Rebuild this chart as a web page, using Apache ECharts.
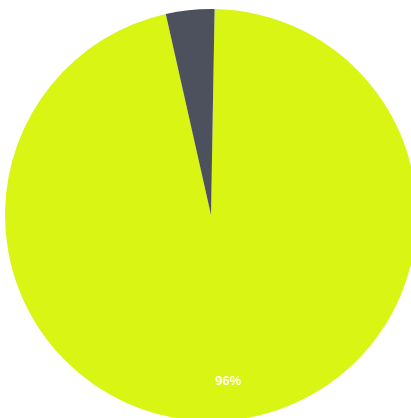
<!DOCTYPE html>
<html>
<head>
<meta charset="utf-8">
<script src="https://cdn.jsdelivr.net/npm/echarts@6/dist/echarts.min.js"></script>
<style>
  html, body { margin: 0; padding: 0; background: #ffffff; }
  #chart { width: 411px; height: 418px; }
</style>
</head>
<body>
<div id="chart"></div>
<script>
// slices, clockwise from the top
const names = ["Main", "Other"];
const values = [96.2, 3.8];
const colors = ["#d8f514", "#4d515e"];
const shownLabels = [true, false];

const chart = echarts.init(document.getElementById("chart"));

const pieData = names.map((n, i) => ({
  name: n,
  value: values[i],
  itemStyle: { color: colors[i] },
}));

// invisible ring on top, only used to place the label near the rim
const labelData = names.map((n, i) => ({
  name: n,
  value: values[i],
  itemStyle: { color: "transparent" },
  label: { show: shownLabels[i] },
}));

chart.setOption({
  animation: false,
  series: [
    {
      type: "pie",
      center: [211, 215],
      radius: 206,
      startAngle: 89,
      silent: true,
      label: { show: false },
      labelLine: { show: false },
      data: pieData,
    },
    {
      type: "pie",
      center: [211, 215],
      radius: [122, 206],
      startAngle: 89,
      percentPrecision: 0,
      silent: true,
      label: {
        position: "inside",
        formatter: "{d}%",
        color: "#ffffff",
        fontWeight: "bold",
        fontSize: 13,
        fontFamily: "Liberation Sans, Arial, sans-serif",
      },
      labelLine: { show: false },
      data: labelData,
    },
  ],
});
</script>
</body>
</html>
